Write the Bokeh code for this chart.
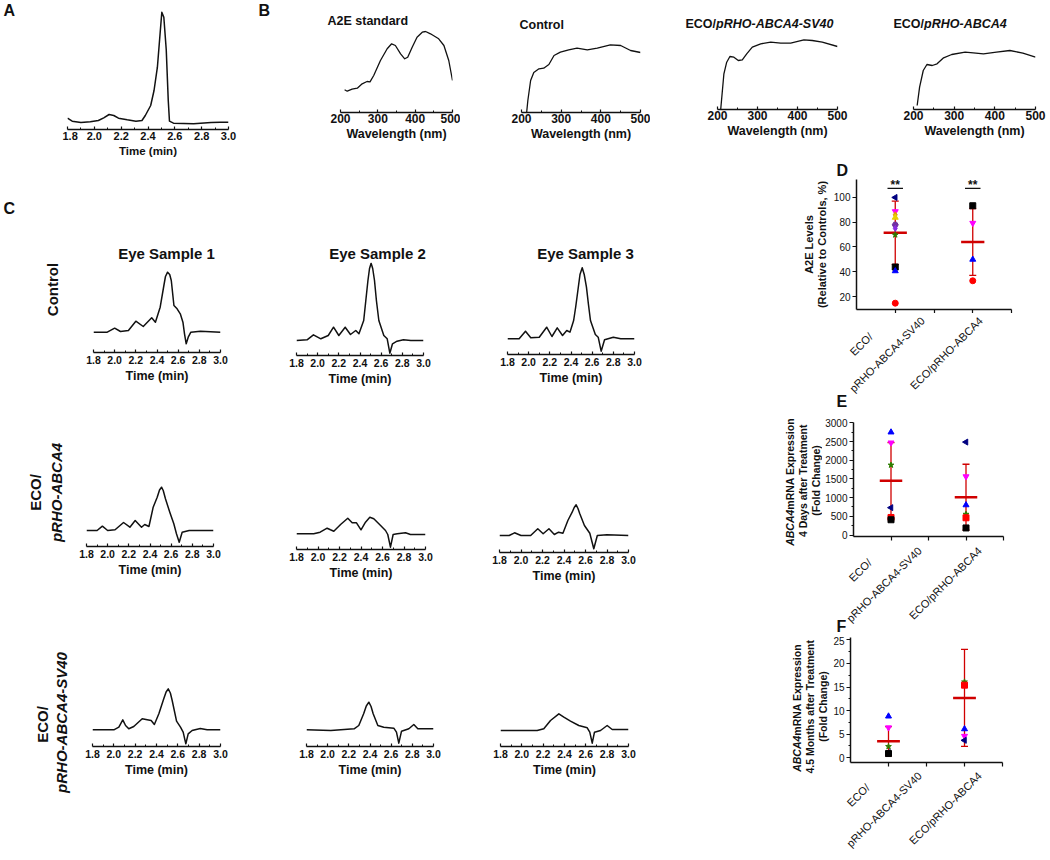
import math
from bokeh.plotting import figure
from bokeh.models import (Range1d, Label, FixedTicker, ColumnDataSource, Whisker,
                          TeeHead, NumeralTickFormatter)
from bokeh.layouts import row, column
from bokeh.core.properties import field
from bokeh.embed import file_html
from bokeh.resources import INLINE

FONT = "Liberation Sans"
INK = "#111111"
RED = "#d00000"

# ------------------------------------------------------------------ data
TIME_TICKS = [1.8, 2.0, 2.2, 2.4, 2.6, 2.8, 3.0]
TIME_MINOR = [1.9, 2.1, 2.3, 2.5, 2.7, 2.9]
WL_TICKS = [200, 300, 400, 500]
WL_MINOR = [250, 350, 450]

# Panel A : A2E standard chromatogram (signal, arbitrary units)
A_TIME = [1.80, 1.835, 1.90, 1.97, 2.03, 2.07, 2.11, 2.145, 2.18, 2.245, 2.31, 2.355, 2.38,
          2.42, 2.445, 2.47, 2.49, 2.503, 2.518, 2.536, 2.551, 2.56, 2.59, 2.74, 2.87, 2.94, 3.00]
A_SIGNAL = [11.3, 8.3, 7.0, 7.7, 9.0, 11.7, 15.0, 14.0, 11.3, 9.7, 8.3, 9.0, 14.0,
            24.0, 39.0, 62.3, 95.7, 117.3, 112.3, 79.7, 29.0, 8.3, 6.3, 5.7, 7.0, 7.3, 7.3]

# Panel B : absorbance spectra
B_TITLES = ["A2E standard", "Control", "ECO/pRHO-ABCA4-SV40", "ECO/pRHO-ABCA4"]
B1_WL = [211, 218, 231, 245, 258, 271, 279, 289, 307, 325, 337, 347, 361, 372, 380, 392,
         405, 419, 428, 441, 463, 477, 490, 500]
B1_ABS = [22.7, 21.3, 23.3, 24.3, 28.7, 31, 30.7, 37, 52, 63.7, 68.7, 67, 58.7, 53.7, 55.3,
          65.3, 75.3, 80.3, 81, 78.7, 73.7, 67, 52, 32]
B2_WL = [213, 216, 223, 231, 244, 256, 269, 282, 298, 319, 340, 366, 391, 424, 450, 475, 500]
B2_ABS = [0, 12, 32, 40, 43.7, 44.3, 48, 57, 60.3, 62.7, 64.3, 62.7, 64.3, 67.7, 67, 62, 60]
B3_WL = [208, 216, 223, 231, 241, 252, 262, 273, 287, 308, 333, 358, 383, 416, 437, 462, 500]
B3_ABS = [0, 35.7, 47.3, 53, 52.3, 49, 49.7, 55.7, 62.3, 65.7, 67.3, 66.3, 66.3, 69.7, 69,
          67.3, 63]
B4_WL = [209, 215, 224, 233, 246, 258, 274, 294, 327, 347, 372, 404, 437, 469, 500]
B4_ABS = [4, 22.3, 39, 45, 44, 45.7, 51.7, 55, 57.3, 56.7, 55.7, 57.3, 59, 56.3, 52.3]

# Panel C : eye-sample chromatograms
C_SAMPLES = ["Eye Sample 1", "Eye Sample 2", "Eye Sample 3"]
C11_T = [1.80, 1.93, 2.00, 2.055, 2.13, 2.20, 2.27, 2.35, 2.385, 2.43, 2.465, 2.48, 2.50,
         2.52, 2.535, 2.56, 2.59, 2.62, 2.645, 2.66, 2.676, 2.695, 2.72, 2.81, 3.00]
C11_S = [20.3, 20.3, 24.3, 21.0, 22.0, 31.3, 26.0, 34.7, 30.3, 45.3, 67.0, 76.0, 80.3,
         78.0, 72.0, 47.0, 43.7, 38.7, 30.3, 18.7, 8.7, 15.3, 20.3, 21.3, 20.3]
C12_T = [1.80, 1.90, 1.96, 2.03, 2.10, 2.15, 2.20, 2.26, 2.31, 2.36, 2.39, 2.435, 2.455,
         2.475, 2.49, 2.505, 2.52, 2.537, 2.555, 2.578, 2.625, 2.657, 2.682, 2.707, 2.75,
         2.81, 2.88, 3.00]
C12_S = [15.0, 15.7, 20.7, 16.7, 20.0, 28.3, 20.0, 28.3, 21.0, 25.0, 21.7, 35.0, 55.0,
         75.0, 87.0, 92.3, 87.0, 75.0, 55.0, 35.0, 20.0, 16.7, 2.3, 11.7, 14.3,
         15.7, 15.0, 15.0]
C13_T = [1.80, 1.91, 1.97, 2.02, 2.10, 2.17, 2.22, 2.27, 2.32, 2.36, 2.39, 2.425, 2.445,
         2.465, 2.485, 2.506, 2.525, 2.546, 2.565, 2.584, 2.63, 2.657, 2.685, 2.717, 2.80,
         2.87, 3.00]
C13_S = [15.7, 15.7, 23.3, 16.7, 17.3, 27.3, 18.0, 26.7, 19.0, 24.0, 22.3, 34.0, 48.0,
         64.0, 80.0, 86.7, 80.0, 67.3, 50.0, 34.0, 20.0, 17.3, 3.3, 14.7, 17.3,
         15.7, 15.7]
C21_T = [1.80, 1.90, 1.95, 2.00, 2.07, 2.15, 2.21, 2.26, 2.32, 2.35, 2.39, 2.43, 2.468,
         2.49, 2.509, 2.525, 2.546, 2.587, 2.625, 2.65, 2.676, 2.704, 2.77, 3.00]
C21_S = [16.0, 16.0, 20.3, 16.0, 16.7, 24.0, 19.3, 26.0, 19.3, 22.0, 20.0, 39.3, 49.3,
         56.5, 59.3, 56.0, 47.7, 34.3, 22.7, 12.7, 4.3, 14.3, 16.0, 16.0]
C22_T = [1.80, 1.96, 2.02, 2.085, 2.116, 2.147, 2.21, 2.277, 2.318, 2.358, 2.40, 2.442,
         2.482, 2.519, 2.566, 2.628, 2.649, 2.674, 2.699, 2.737, 2.814, 2.86, 3.00]
C22_S = [15.7, 15.7, 17.3, 21.3, 19.7, 18.3, 25.0, 31.3, 26.7, 26.7, 19.7, 27.3,
         32.3, 30.7, 25.7, 19.0, 15.0, 2.3, 15.0, 15.7, 16.7, 15.0, 15.0]
C23_T = [1.80, 1.89, 1.94, 2.00, 2.09, 2.156, 2.206, 2.26, 2.31, 2.35, 2.39, 2.436, 2.476,
         2.495, 2.513, 2.53, 2.547, 2.59, 2.64, 2.677, 2.71, 2.80, 3.00]
C23_S = [17.0, 17.0, 19.7, 17.0, 17.0, 23.7, 18.7, 23.7, 18.0, 20.3, 19.3, 32.0, 40.3,
         45.0, 47.7, 44.0, 38.7, 27.0, 19.3, 3.7, 17.0, 17.7, 17.0]
C31_T = [1.80, 2.00, 2.047, 2.084, 2.11, 2.14, 2.187, 2.266, 2.313, 2.35, 2.38, 2.422,
         2.468, 2.49, 2.51, 2.53, 2.547, 2.588, 2.625, 2.65, 2.675, 2.697, 2.734, 2.81,
         2.875, 3.00]
C31_S = [16.7, 16.7, 19.3, 26.7, 21.0, 17.7, 20.0, 27.7, 26.7, 26.0, 22.0, 32.7,
         47.7, 54.5, 57.7, 53.5, 46.0, 25.3, 19.3, 14.3, 2.7, 12.7, 16.0, 18.0,
         16.7, 16.7]
C32_T = [1.80, 2.03, 2.25, 2.294, 2.34, 2.365, 2.389, 2.41, 2.43, 2.474, 2.53, 2.625, 2.65,
         2.672, 2.698, 2.767, 2.814, 2.852, 3.00]
C32_S = [16.7, 16.0, 17.7, 21.0, 32.7, 40.5, 44.3, 40.0, 32.7, 21.0, 19.3, 18.3, 14.3,
         3.3, 15.3, 17.7, 22.0, 17.7, 17.7]
C33_T = [1.80, 2.144, 2.206, 2.269, 2.347, 2.394, 2.456, 2.534, 2.613, 2.637, 2.66, 2.681,
         2.738, 2.80, 2.847, 3.00]
C33_S = [16.0, 16.0, 17.7, 26.0, 32.7, 29.3, 25.3, 21.0, 18.7, 14.3, 3.3, 14.3,
         16.0, 21.0, 17.0, 17.0]

# Panels D-F
CATEGORIES = ["ECO/pRHO-ABCA4-SV40", "ECO/pRHO-ABCA4"]

D_SV40 = [100, 88.7, 86.0, 83.8, 77.9, 75.0, 69.8, 43.8, 40.6, 14.6]
D_ABCA4 = [93.3, 79.3, 49.9, 32.7]
D_MEAN = [71.5, 64.0]
D_SD = [25.5, 27.0]
D_TICKS = [20, 40, 60, 80, 100]

E_SV40 = [2750, 2469, 1872, 732, 469, 408]
E_ABCA4 = [2486, 1565, 802, 557, 461, 189]
E_MEAN = [1451, 1013]
E_SD = [1020, 880]
E_TICKS = [0, 500, 1000, 1500, 2000, 2500, 3000]
E_MINOR = [250, 750, 1250, 1750, 2250, 2750]

F_SV40 = [8.8, 6.4, 2.4, 1.1, 0.9]
F_ABCA4 = [16.1, 15.4, 6.1, 4.6, 3.7]
F_MEAN = [3.5, 12.7]
F_SD = [3.1, 10.3]
F_TICKS = [0, 5, 10, 15, 20, 25]
F_MINOR = [2.5, 7.5, 12.5, 17.5, 22.5]

# ------------------------------------------------------------------ styles
SYM = {
    "black_sq": ("square", "#000000", 0.0),
    "red_ci": ("circle", "#ff0000", 0.0),
    "red_sq": ("square", "#ff0000", 0.0),
    "blue_up": ("triangle", "#0000ff", 0.0),
    "mag_dn": ("inverted_triangle", "#ff00ff", 0.0),
    "navy_lt": ("triangle", "#000080", math.pi / 2),
    "green_st": ("star", "#2e7d00", 0.0),
    "orange_di": ("diamond", "#e0a000", 0.0),
    "yellow_up": ("triangle", "#e8d000", 0.0),
    "purple_ci": ("hex", "#7030a0", 0.0),
    "violet_di": ("diamond", "#8a2be2", 0.0),
}
D_SV40_SYM = ["navy_lt", "mag_dn", "orange_di", "yellow_up", "purple_ci", "violet_di",
              "green_st", "black_sq", "blue_up", "red_ci"]
D_ABCA4_SYM = ["black_sq", "mag_dn", "blue_up", "red_ci"]
E_SV40_SYM = ["blue_up", "mag_dn", "green_st", "navy_lt", "red_sq", "black_sq"]
E_ABCA4_SYM = ["navy_lt", "mag_dn", "blue_up", "green_st", "red_sq", "black_sq"]
F_SV40_SYM = ["blue_up", "mag_dn", "green_st", "navy_lt", "black_sq"]
F_ABCA4_SYM = ["green_st", "red_sq", "blue_up", "mag_dn", "navy_lt"]

HB = {' ': 278, '!': 333, '(': 333, ')': 333, '*': 389, ',': 278, '-': 333, '.': 278,
      '/': 278, '%': 889, 'A': 722, 'B': 722, 'C': 722, 'D': 722, 'E': 667, 'F': 611,
      'G': 778, 'H': 722, 'I': 278, 'J': 556, 'K': 722, 'L': 611, 'M': 833, 'N': 722,
      'O': 778, 'P': 667, 'Q': 778, 'R': 722, 'S': 667, 'T': 611, 'U': 722, 'V': 667,
      'W': 944, 'X': 667, 'Y': 667, 'Z': 611, 'a': 556, 'b': 611, 'c': 556, 'd': 611,
      'e': 556, 'f': 333, 'g': 611, 'h': 611, 'i': 278, 'j': 278, 'k': 556, 'l': 278,
      'm': 889, 'n': 611, 'o': 611, 'p': 611, 'q': 611, 'r': 389, 's': 556, 't': 333,
      'u': 611, 'v': 556, 'w': 778, 'x': 556, 'y': 556, 'z': 500}


def tw(s, size):
    return sum(HB.get(c, 556) for c in s) * size / 1000.0


# ------------------------------------------------------------------ helpers
def no_align(p):
    try:
        p.frame_align = False
    except Exception:
        pass


def new_fig(box, frame, xr, yr, yaxis=False):
    x0, y0, x1, y1 = box
    fx0, fy0, fx1, fy1 = frame
    kw = {} if yaxis else {"y_axis_type": None}
    p = figure(width=x1 - x0, height=y1 - y0, x_range=Range1d(*xr), y_range=Range1d(*yr),
               output_backend="svg", toolbar_location=None,
               min_border_left=fx0 - x0, min_border_right=x1 - fx1,
               min_border_top=fy0 - y0, min_border_bottom=y1 - fy1, **kw)
    p.outline_line_color = None
    p.grid.visible = False
    no_align(p)
    return p


def text_fig(box):
    # blank figure whose frame is the whole canvas; data units = page pixels
    x0, y0, x1, y1 = box
    p = figure(width=x1 - x0, height=y1 - y0, x_range=Range1d(x0, x1),
               y_range=Range1d(y1, y0), x_axis_type=None, y_axis_type=None,
               output_backend="svg", toolbar_location=None,
               min_border_left=0, min_border_right=0, min_border_top=0, min_border_bottom=0)
    p.outline_line_color = None
    no_align(p)
    return p


def lab(p, text, x, y, size, style="bold", align="left", baseline="middle", angle=0.0):
    p.add_layout(Label(x=x, y=y, text=text, text_font=FONT, text_font_size=f"{size}px",
                       text_font_style=style, text_align=align, text_baseline=baseline,
                       angle=angle, text_color=INK))


def hpieces(p, pieces, left, cy, size):
    x = left
    for text, style in pieces:
        lab(p, text, x, cy, size, style=style)
        x += tw(text, size)


def vpieces(p, pieces, cx, cy, size):
    total = sum(tw(t, size) for t, _ in pieces)
    y = cy + total / 2.0
    for text, style in pieces:
        lab(p, text, cx, y, size, style=style, angle=math.pi / 2)
        y -= tw(text, size)


def style_xaxis(ax, tick_size, label_size, standoff, label_standoff):
    ax.axis_line_width = 1.5
    ax.axis_line_color = INK
    ax.major_tick_in = 3
    ax.major_tick_out = 0
    ax.minor_tick_in = 2
    ax.minor_tick_out = 0
    ax.major_tick_line_width = 1.2
    ax.major_tick_line_color = INK
    ax.minor_tick_line_color = INK
    ax.major_label_standoff = standoff
    ax.major_label_text_font = FONT
    ax.major_label_text_font_style = "bold"
    ax.major_label_text_font_size = f"{tick_size}px"
    ax.major_label_text_color = INK
    ax.axis_label_text_font = FONT
    ax.axis_label_text_font_style = "bold"
    ax.axis_label_text_font_size = f"{label_size}px"
    ax.axis_label_text_color = INK
    ax.axis_label_standoff = label_standoff


def chrom(box, frame, t, s, tick_size=10.5, label_size=12.5, so=(3, 2)):
    p = new_fig(box, frame, (1.8, 3.0), (0, frame[3] - frame[1]))
    p.line(t, s, line_color=INK, line_width=1.5, line_join="round")
    ax = p.xaxis[0]
    ax.ticker = FixedTicker(ticks=TIME_TICKS, minor_ticks=TIME_MINOR)
    ax.formatter = NumeralTickFormatter(format="0.0")
    ax.axis_label = "Time (min)"
    style_xaxis(ax, tick_size, label_size, so[0], so[1])
    return p


def spectrum(box, frame, wl, ab):
    p = new_fig(box, frame, (200, 500), (0, frame[3] - frame[1]))
    p.line(wl, ab, line_color=INK, line_width=1.3, line_join="round")
    ax = p.xaxis[0]
    ax.ticker = FixedTicker(ticks=WL_TICKS, minor_ticks=WL_MINOR)
    ax.formatter = NumeralTickFormatter(format="0")
    ax.axis_label = "Wavelength (nm)"
    style_xaxis(ax, 12, 12.5, 1, 1)
    return p


CAT_POS = [i + 1 for i in range(len(CATEGORIES))]


def dot_panel(box, frame, yr, yticks, yminor, groups, means, sds):
    p = new_fig(box, frame, (0.5, 2.5), yr, yaxis=True)
    xa = p.xaxis[0]
    # category ticks drawn as unlabeled tick marks; category names are separate texts
    xa.ticker = FixedTicker(ticks=[], minor_ticks=CAT_POS + [1.5, 2.5])
    xa.axis_line_width = 1.5
    xa.axis_line_color = INK
    xa.minor_tick_in = 0
    xa.minor_tick_out = 4
    xa.minor_tick_line_width = 1.2
    xa.minor_tick_line_color = INK
    ya = p.yaxis[0]
    ya.ticker = FixedTicker(ticks=yticks, minor_ticks=yminor)
    ya.axis_line_width = 1.5
    ya.axis_line_color = INK
    ya.major_tick_in = 0
    ya.major_tick_out = 4
    ya.minor_tick_in = 0
    ya.minor_tick_out = 2
    ya.major_tick_line_color = INK
    ya.minor_tick_line_color = INK
    ya.major_label_standoff = 2
    ya.major_label_text_font = FONT
    ya.major_label_text_font_size = "10px"
    ya.major_label_text_color = INK

    src = ColumnDataSource(dict(x=CAT_POS,
                                upper=[m + s for m, s in zip(means, sds)],
                                lower=[m - s for m, s in zip(means, sds)]))
    p.add_layout(Whisker(base="x", upper="upper", lower="lower", source=src,
                         dimension="height", line_color=RED, line_width=1.3,
                         upper_head=TeeHead(size=7, line_color=RED, line_width=1.3),
                         lower_head=TeeHead(size=7, line_color=RED, line_width=1.3)))
    p.segment(x0=[c - 0.15 for c in CAT_POS], x1=[c + 0.15 for c in CAT_POS],
              y0=means, y1=means, line_color=RED, line_width=2.5)
    xs, ys, mk, col, ang = [], [], [], [], []
    for c, (vals, syms) in zip(CAT_POS, groups):
        for v, s in zip(vals, syms):
            m, cl, a = SYM[s]
            xs.append(c); ys.append(v); mk.append(m); col.append(cl); ang.append(a)
    ps = ColumnDataSource(dict(x=xs, y=ys, marker=mk, color=col, angle=ang))
    p.scatter("x", "y", source=ps, marker=field("marker"), fill_color=field("color"),
              line_color=field("color"), angle=field("angle"), size=6)
    return p


def cat_labels(t, a1, a2, a3):
    ang = math.pi / 4
    lab(t, "ECO/", a1[0], a1[1], 11, style="normal", align="right", baseline="top", angle=ang)
    lab(t, "pRHO-ABCA4-SV40", a2[0], a2[1], 11, style="normal", align="right",
        baseline="top", angle=ang)
    lab(t, CATEGORIES[1], a3[0], a3[1], 11, style="normal", align="right", baseline="top",
        angle=ang)


# ------------------------------------------------------------------ band 1 (A, B)
tA = text_fig((0, 0, 62, 160))
lab(tA, "A", 3, 10, 16)
pA = chrom((62, 0, 240, 160), (67, 8, 228, 129), A_TIME, A_SIGNAL,
           tick_size=11, label_size=11.5, so=(2, 2))

tB = text_fig((240, 0, 1050, 30))
lab(tB, "B", 258, 10, 16)
lab(tB, B_TITLES[0], 327, 20, 12.5)
lab(tB, B_TITLES[1], 519, 24, 12.5)
hpieces(tB, [("ECO/", "bold"), ("pRHO-ABCA4-SV40", "bold italic")], 685, 23, 12.5)
hpieces(tB, [("ECO/", "bold"), ("pRHO-ABCA4", "bold italic")], 893, 23, 12.5)

pB1 = spectrum((240, 30, 460, 160), (340, 30, 452, 112), B1_WL, B1_ABS)
pB2 = spectrum((460, 30, 650, 160), (521, 30, 640, 112), B2_WL, B2_ABS)
pB3 = spectrum((650, 30, 860, 160), (717, 30, 837, 109), B3_WL, B3_ABS)
pB4 = spectrum((860, 30, 1050, 160), (913, 30, 1035, 109), B4_WL, B4_ABS)

band1 = row(tA, pA, column(tB, row(pB1, pB2, pB3, pB4)))

# ------------------------------------------------------------------ panel C
tC = text_fig((0, 160, 660, 262))
lab(tC, "C", 3, 208, 16)
lab(tC, C_SAMPLES[0], 166, 253, 15, align="center")
lab(tC, C_SAMPLES[1], 377, 253, 15, align="center")
lab(tC, C_SAMPLES[2], 585, 253, 15, align="center")

tR1 = text_fig((0, 262, 80, 395))
lab(tR1, "Control", 52, 289, 15, align="center", angle=math.pi / 2)
p11 = chrom((80, 262, 250, 395), (93, 262, 220, 352), C11_T, C11_S)
p12 = chrom((250, 262, 460, 395), (296, 262, 423, 355), C12_T, C12_S)
p13 = chrom((460, 262, 660, 395), (507, 262, 634, 354), C13_T, C13_S)

tR2 = text_fig((0, 395, 76, 595))
lab(tR2, "ECO/", 35, 492, 15, align="center", angle=math.pi / 2)
lab(tR2, "pRHO-ABCA4", 56, 492, 15, style="bold italic", align="center", angle=math.pi / 2)
p21 = chrom((76, 395, 250, 595), (86, 470, 213, 546), C21_T, C21_S)
p22 = chrom((250, 395, 460, 595), (296, 470, 425, 549), C22_T, C22_S)
p23 = chrom((460, 395, 660, 595), (499, 470, 628, 552), C23_T, C23_S)

tR3 = text_fig((0, 595, 80, 860))
lab(tR3, "ECO/", 42, 724, 15, align="center", angle=math.pi / 2)
lab(tR3, "pRHO-ABCA4-SV40", 61, 722, 15, style="bold italic", align="center",
    angle=math.pi / 2)
p31 = chrom((80, 595, 250, 860), (92, 680, 220, 746), C31_T, C31_S)
p32 = chrom((250, 595, 460, 860), (306, 680, 433, 746), C32_T, C32_S)
p33 = chrom((460, 595, 660, 860), (500, 680, 628, 746), C33_T, C33_S)

colC = column(tC, row(tR1, p11, p12, p13), row(tR2, p21, p22, p23),
              row(tR3, p31, p32, p33))

# ------------------------------------------------------------------ panels D-F
tD = text_fig((660, 160, 830, 410))
vpieces(tD, [("A2E Levels", "bold")], 808, 244, 11)
vpieces(tD, [("(Relative to Controls, %)", "bold")], 821, 244, 11)
sD = text_fig((830, 160, 1050, 179))
lab(sD, "D", 836, 170, 16)
pD = dot_panel((830, 179, 1050, 313), (854, 179, 1011, 309), (9.5, 114.5), D_TICKS, [],
               [(D_SV40, D_SV40_SYM), (D_ABCA4, D_ABCA4_SYM)], D_MEAN, D_SD)
for c in CAT_POS:
    pD.add_layout(Label(x=c, y=110.3, text="**", text_font=FONT, text_font_size="12px",
                        text_font_style="bold", text_align="center",
                        text_baseline="middle", text_color=INK))
pD.segment(x0=[c - 0.1 for c in CAT_POS], x1=[c + 0.1 for c in CAT_POS],
           y0=[107.3] * len(CAT_POS), y1=[107.3] * len(CAT_POS),
           line_color=INK, line_width=1.2)
cD = text_fig((830, 313, 1050, 410))
cat_labels(cD, (866, 330), (918, 314), (976, 314))
lab(cD, "E", 836, 401, 16)

tE = text_fig((660, 410, 822, 636))
vpieces(tE, [("ABCA4", "bold italic"), (" mRNA Expression", "bold")], 789, 480, 10.5)
vpieces(tE, [("4 Days after Treatment", "bold")], 802, 480, 10.5)
vpieces(tE, [("(Fold Change)", "bold")], 815, 480, 10.5)
pE = dot_panel((822, 410, 1050, 541), (852, 422, 1003, 536), (-40, 3010), E_TICKS, E_MINOR,
               [(E_SV40, E_SV40_SYM), (E_ABCA4, E_ABCA4_SYM)], E_MEAN, E_SD)
cE = text_fig((822, 541, 1050, 636))
cat_labels(cE, (865, 556), (915, 544), (975, 544))
lab(cE, "F", 836, 626, 16)

tF = text_fig((660, 636, 830, 860))
vpieces(tF, [("ABCA4", "bold italic"), (" mRNA Expression", "bold")], 796, 706, 10.5)
vpieces(tF, [("4.5 Months after Treatment", "bold")], 809, 706, 10.5)
vpieces(tF, [("(Fold Change)", "bold")], 822, 706, 10.5)
pF = dot_panel((830, 636, 1050, 767), (848, 637, 1002, 762), (-1, 25.5), F_TICKS, F_MINOR,
               [(F_SV40, F_SV40_SYM), (F_ABCA4, F_ABCA4_SYM)], F_MEAN, F_SD)
cF = text_fig((830, 767, 1050, 860))
cat_labels(cF, (863, 781), (915, 769), (975, 769))

colDEF = column(row(tD, column(sD, pD, cD)), row(tE, column(pE, cE)),
                row(tF, column(pF, cF)))

layout = column(band1, row(colC, colDEF))

open("out.html", "w").write(file_html(layout, INLINE, "A2E and ABCA4 figure"))
